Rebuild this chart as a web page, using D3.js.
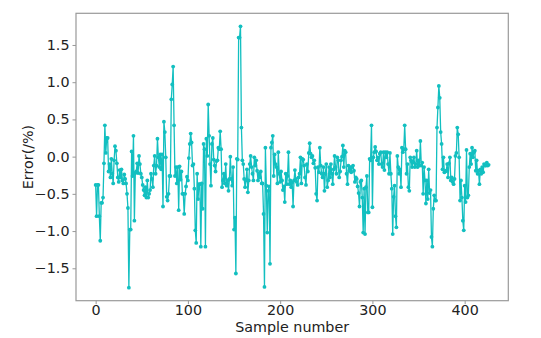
<!DOCTYPE html>
<html>
<head>
<meta charset="utf-8">
<script src="https://cdn.jsdelivr.net/npm/d3@7"></script>
<style>
  html, body { margin: 0; padding: 0; background: #ffffff; }
  svg { display: block; }
  text { font-family: "DejaVu Sans", sans-serif; }
</style>
</head>
<body>
<div id="chart"></div>
<script>
// ---- Data ----
const errorValues = [
  -0.38,-0.80,-0.38,-0.38,-0.80,-1.13,-0.62,-0.62,-0.55,-0.09,0.42,0.05,0.25,0.25,-0.20,-0.10,-0.28,-0.03,-0.23,-0.36,-0.05,0.14,
  0.08,-0.09,-0.28,-0.34,-0.18,-0.28,-0.17,-0.32,-0.36,-0.24,-0.30,-0.36,-0.50,-0.69,
  -1.76,-0.98,-0.98,0.07,-0.26,0.28,-0.86,-0.22,-0.20,-0.09,-0.22,0.01,-0.10,-0.23,-0.28,-0.38,-0.45,-0.52,-0.41,-0.55,-0.32,-0.55,-0.50,-0.45,-0.23,-0.30,-0.41,
  -0.12,0.01,-0.23,-0.12,0.24,-0.01,-0.14,0.03,-0.17,0.03,-0.67,0.47,0.33,-0.01,-0.54,-0.59,-0.50,-0.26,-0.26,0.77,0.97,1.21,0.42,-0.26,-0.14,-0.36,-0.14,-0.72,-0.13,-0.31,-0.20,-0.50,-0.50,-0.77,-0.50,-0.40,-0.27,
  -0.32,-0.02,0.17,0.31,0.19,-0.12,-0.10,-0.43,-0.99,-1.16,-0.23,-0.57,-0.37,-0.37,-1.21,-0.36,-0.70,0.17,0.10,-1.21,0.24,0.01,0.70,0.28,-0.10,-0.39,0.17,0.25,-0.04,-0.12,-0.20,
  -0.06,-0.05,0.12,0.10,0.34,0.10,-0.41,-0.32,-0.23,-0.36,-0.10,-0.39,-0.32,-0.46,-0.30,0.00,-0.30,-0.39,-0.14,-0.98,-0.82,-1.57,-0.03,-0.04,1.60,1.60,1.75,
  0.39,-0.05,-0.10,-0.30,-0.41,-0.32,-0.17,-0.48,-0.32,-0.10,0.01,-0.14,-0.23,-0.32,-0.01,-0.12,-0.05,-0.19,-0.32,-0.23,-0.28,-0.20,-0.36,-0.36,-0.77,-1.75,0.12,-0.39,-1.02,-0.46,-0.40,-1.44,0.12,0.19,0.28,-0.26,0.03,-0.10,-0.14,-0.36,0.06,-0.23,
  -0.34,-0.20,-0.32,-0.45,-0.40,-0.61,-0.23,-0.37,-0.26,0.06,-0.37,-0.32,-0.41,-0.35,-0.67,-0.32,-0.18,-0.30,-0.34,-0.38,-0.28,-0.23,-0.01,-0.36,-0.03,-0.04,-0.12,-0.28,-0.38,-0.10,
  -0.20,0.05,0.18,0.04,-0.01,0.01,-0.09,-0.05,-0.15,-0.50,-0.59,-0.14,-0.21,0.12,-0.12,-0.23,-0.28,-0.14,-0.46,-0.23,-0.10,-0.41,-0.32,-0.14,-0.28,-0.10,-0.23,-0.37,-0.17,0.01,-0.14,-0.23,-0.01,-0.05,-0.28,-0.20,-0.05,0.00,0.15,-0.14,
  0.08,0.06,-0.23,-0.37,-0.12,-0.19,-0.14,-0.21,-0.14,-0.12,-0.19,-0.34,-0.28,-0.30,-0.40,-0.49,-0.67,-0.34,-0.32,-0.55,-1.02,-0.43,-1.04,-0.41,-0.26,-0.75,-0.75,-0.03,-0.05,0.42,
  -0.68,-0.01,0.06,0.13,0.07,-0.05,-0.01,-0.10,0.04,0.06,-0.10,-0.14,0.06,-0.18,0.06,-0.01,0.06,-0.10,-0.23,0.05,-0.23,-0.43,-1.04,-0.54,-0.39,-0.80,-0.95,0.01,-0.14,-0.23,-0.17,-0.41,0.12,0.06,0.10,
  0.42,0.10,-0.23,-0.10,-0.41,-0.46,-0.01,-0.05,-0.14,-0.08,-0.01,-0.14,-0.10,0.08,-0.14,-0.05,-0.12,0.21,-0.12,-0.08,-0.50,-0.14,-0.32,-0.63,-0.32,-0.57,-0.17,-0.49,-0.45,-1.08,-1.21,-0.70,-0.52,-0.59,-0.59,
  0.39,0.66,0.95,0.79,0.33,0.17,-0.17,-0.01,-0.21,-0.20,-0.19,-0.10,-0.28,-0.09,-0.01,-0.32,-0.28,-0.34,-0.37,-0.30,0.01,0.05,0.39,0.30,-0.01,-0.59,-0.32,-0.55,-0.86,-0.99,
  -0.39,-0.61,0.09,-0.55,-0.52,-0.14,0.04,-0.10,0.12,-0.01,0.06,0.08,-0.19,-0.05,-0.23,-0.19,-0.37,-0.17,-0.23,-0.14,-0.21,-0.10,-0.12,-0.12,-0.08,-0.12,-0.11
];
const sampleNumbers = errorValues.map((_, i) => i);
const xTickValues = [0, 100, 200, 300, 400];
const yTickValues = [-1.5, -1.0, -0.5, 0.0, 0.5, 1.0, 1.5];
const xLabel = "Sample number";
const yLabel = "Error(/%)";

// ---- Layout ----
const W = 541, H = 338;
const plot = { left: 76, right: 508.3, top: 13.3, bottom: 300.7 };
const lineColor = "#12bfc0";
const spineColor = "#999999";
const textColor = "#222222";
const fontSize = 14.3;

const svg = d3.select("#chart").append("svg")
  .attr("width", W).attr("height", H);

svg.append("rect").attr("width", W).attr("height", H).attr("fill", "#ffffff");

// matplotlib-style 5% margins
const xMin = d3.min(sampleNumbers), xMax = d3.max(sampleNumbers);
const xPad = (xMax - xMin) * 0.05;
const yMin = d3.min(errorValues), yMax = d3.max(errorValues);
const yPad = (yMax - yMin) * 0.05;

const x = d3.scaleLinear().domain([xMin - xPad, xMax + xPad]).range([plot.left, plot.right]);
const y = d3.scaleLinear().domain([yMin - yPad, yMax + yPad]).range([plot.bottom, plot.top]);

const data = sampleNumbers.map((s, i) => ({ s, v: errorValues[i] }));

// Line
svg.append("path")
  .datum(data)
  .attr("fill", "none")
  .attr("stroke", lineColor)
  .attr("stroke-width", 1.3)
  .attr("stroke-linejoin", "round")
  .attr("d", d3.line().x(d => x(d.s)).y(d => y(d.v)));

// Markers
svg.append("g").selectAll("circle")
  .data(data)
  .join("circle")
  .attr("cx", d => x(d.s))
  .attr("cy", d => y(d.v))
  .attr("r", 1.9)
  .attr("fill", lineColor);

// Spines
svg.append("rect")
  .attr("x", plot.left).attr("y", plot.top)
  .attr("width", plot.right - plot.left)
  .attr("height", plot.bottom - plot.top)
  .attr("fill", "none")
  .attr("stroke", spineColor)
  .attr("stroke-width", 1.2);

// X axis
const xAxis = d3.axisBottom(x).tickValues(xTickValues).tickFormat(d3.format("d"))
  .tickSizeInner(3.5).tickSizeOuter(0).tickPadding(1);
const gx = svg.append("g").attr("transform", `translate(0,${plot.bottom})`).call(xAxis);
gx.select(".domain").remove();
gx.selectAll(".tick line").attr("stroke", spineColor).attr("stroke-width", 1);
gx.selectAll(".tick text").attr("fill", textColor).attr("font-size", fontSize)
  .attr("font-family", "DejaVu Sans, sans-serif");

// Y axis
const yAxis = d3.axisLeft(y).tickValues(yTickValues)
  .tickFormat(d => d3.format(".1f")(d).replace("-", "\u2212"))
  .tickSizeInner(3.5).tickSizeOuter(0).tickPadding(3);
const gy = svg.append("g").attr("transform", `translate(${plot.left},0)`).call(yAxis);
gy.select(".domain").remove();
gy.selectAll(".tick line").attr("stroke", spineColor).attr("stroke-width", 1);
gy.selectAll(".tick text").attr("fill", textColor).attr("font-size", fontSize)
  .attr("font-family", "DejaVu Sans, sans-serif");

// Axis labels
svg.append("text")
  .attr("x", (plot.left + plot.right) / 2)
  .attr("y", 332.3)
  .attr("text-anchor", "middle")
  .attr("fill", textColor)
  .attr("font-size", fontSize)
  .text(xLabel);

svg.append("text")
  .attr("transform", `translate(32.5,${(plot.top + plot.bottom) / 2}) rotate(-90)`)
  .attr("text-anchor", "middle")
  .attr("fill", textColor)
  .attr("font-size", fontSize)
  .text(yLabel);
</script>
</body>
</html>
